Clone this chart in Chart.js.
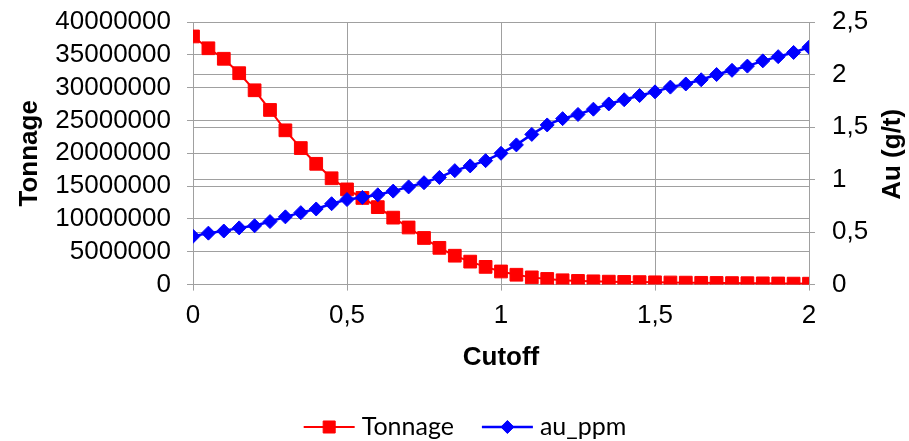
<!DOCTYPE html>
<html>
<head>
<meta charset="utf-8">
<script src="https://cdn.jsdelivr.net/npm/chart.js@4/dist/chart.umd.min.js"></script>
<style>
  html, body { margin: 0; padding: 0; background: #fff; }
  #wrap { width: 909px; height: 441px; }
</style>
</head>
<body>
<div id="wrap"><canvas id="c" width="909" height="441"></canvas></div>
<script>
// Grade-tonnage curve: cutoff grade (g/t) vs tonnage above cutoff and mean Au grade
const cutoff = [0, 0.05, 0.1, 0.15, 0.2, 0.25, 0.3, 0.35, 0.4, 0.45,
                0.5, 0.55, 0.6, 0.65, 0.7, 0.75, 0.8, 0.85, 0.9, 0.95,
                1, 1.05, 1.1, 1.15, 1.2, 1.25, 1.3, 1.35, 1.4, 1.45,
                1.5, 1.55, 1.6, 1.65, 1.7, 1.75, 1.8, 1.85, 1.9, 1.95, 2];

const tonnage = [37800000, 36000000, 34400000, 32200000, 29600000, 26600000, 23500000, 20800000, 18400000, 16200000,
                 14500000, 13200000, 11800000, 10200000, 8700000, 7100000, 5600000, 4400000, 3500000, 2700000,
                 2000000, 1500000, 1100000, 860000, 660000, 560000, 500000, 450000, 410000, 380000,
                 350000, 320000, 300000, 270000, 250000, 230000, 210000, 190000, 170000, 150000, 140000];

const auPpm = [0.46, 0.49, 0.51, 0.54, 0.56, 0.60, 0.645, 0.685, 0.72, 0.77,
               0.81, 0.83, 0.855, 0.89, 0.93, 0.97, 1.02, 1.085, 1.13, 1.18,
               1.25, 1.33, 1.43, 1.52, 1.58, 1.62, 1.67, 1.72, 1.76, 1.80,
               1.835, 1.88, 1.91, 1.95, 2.0, 2.04, 2.08, 2.13, 2.17, 2.21, 2.26];

const seriesNames = ['Tonnage', 'au_ppm'];
const axisTitles = { x: 'Cutoff', left: 'Tonnage', right: 'Au (g/t)' };

const RED = '#ff0000';
const BLUE = '#0000ff';
const GRID = '#a0a0a0';
const TICK_FONT = { family: '"Liberation Sans", Arial, sans-serif', size: 26 };
const TITLE_FONT = { family: '"Liberation Sans", Arial, sans-serif', size: 26, weight: 'bold' };
const comma = v => String(v).replace('.', ',');

const toXY = arr => cutoff.map((c, i) => ({ x: c, y: arr[i] }));

// Vertical axes: fixed widths, and no extra label overhang reserved above/below the plot
const fitVertical = width => s => { s.width = width; s.paddingTop = 0; s.paddingBottom = 0; };

// Right-axis title, read bottom-to-top like the left one
const rightTitle = {
  id: 'rightTitle',
  afterDraw(chart) {
    const s = chart.scales.yR, a = chart.chartArea, ctx = chart.ctx;
    ctx.save();
    ctx.translate(s.right - 16, (a.top + a.bottom) / 2 + 1);
    ctx.rotate(-Math.PI / 2);
    ctx.font = 'bold 26px "Liberation Sans", Arial, sans-serif';
    ctx.fillStyle = '#000';
    ctx.textAlign = 'center';
    ctx.textBaseline = 'middle';
    ctx.fillText(axisTitles.right, 0, 0);
    ctx.restore();
  }
};

// Legend with a line-and-marker sample for each series
const lineLegend = {
  id: 'lineLegend',
  afterDraw(chart) {
    const ctx = chart.ctx;
    const y = 427, sample = 51, gapText = 7, gapItem = 28;
    ctx.save();
    ctx.font = '25px Lato, "Open Sans", sans-serif';
    const items = chart.data.datasets.map(ds => ({ ds, w: ctx.measureText(ds.label).width }));
    const total = items.reduce((t, it) => t + sample + gapText + it.w, 0) + gapItem * (items.length - 1);
    let x = 465 - total / 2;
    items.forEach(({ ds, w }) => {
      ctx.strokeStyle = ds.borderColor;
      ctx.lineWidth = ds.borderWidth;
      ctx.beginPath();
      ctx.moveTo(x, y);
      ctx.lineTo(x + sample, y);
      ctx.stroke();
      ctx.fillStyle = ds.pointBackgroundColor;
      ctx.strokeStyle = ds.pointBorderColor;
      ctx.lineWidth = 1;
      Chart.helpers.drawPoint(ctx, { pointStyle: ds.pointStyle, radius: ds.pointRadius - 0.5, rotation: 0, borderWidth: 1 }, x + sample / 2, y);
      ctx.fillStyle = '#000';
      ctx.textAlign = 'left';
      ctx.textBaseline = 'middle';
      ctx.fillText(ds.label, x + sample + gapText, y);
      x += sample + gapText + w + gapItem;
    });
    ctx.restore();
  }
};

new Chart(document.getElementById('c'), {
  type: 'line',
  data: {
    datasets: [
      {
        label: seriesNames[0],
        data: toXY(tonnage),
        yAxisID: 'yL',
        order: 1,
        borderColor: RED,
        borderWidth: 2,
        pointStyle: 'rect',
        pointRadius: 9,
        pointBackgroundColor: RED,
        pointBorderColor: RED,
        pointBorderWidth: 1,
        tension: 0
      },
      {
        label: seriesNames[1],
        data: toXY(auPpm),
        yAxisID: 'yR',
        order: 0,
        borderColor: BLUE,
        borderWidth: 2.5,
        pointStyle: 'rectRot',
        pointRadius: 7,
        pointBackgroundColor: BLUE,
        pointBorderColor: BLUE,
        pointBorderWidth: 1,
        tension: 0
      }
    ]
  },
  options: {
    responsive: false,
    animation: false,
    layout: { padding: { top: 22, left: 0, right: 0, bottom: 68 } },
    plugins: {
      legend: { display: false },
      tooltip: { enabled: false }
    },
    scales: {
      x: {
        type: 'linear',
        min: 0, max: 2,
        afterFit(s) { s.paddingLeft = 0; s.paddingRight = 0; },
        ticks: { stepSize: 0.5, color: '#000', font: TICK_FONT, padding: 10, callback: comma, maxRotation: 0 },
        grid: { color: GRID, lineWidth: 1, tickLength: 6, tickColor: GRID },
        border: { color: GRID, width: 1 },
        title: { display: true, text: axisTitles.x, color: '#000', font: TITLE_FONT, padding: { top: 0, bottom: 0 } }
      },
      yL: {
        type: 'linear',
        position: 'left',
        min: 0, max: 40000000,
        afterFit: fitVertical(193),
        ticks: { stepSize: 5000000, color: '#000', font: TICK_FONT, padding: 16, autoSkip: false, callback: v => String(v) },
        grid: { color: GRID, lineWidth: 1, tickLength: 6, tickColor: GRID },
        border: { color: GRID, width: 1 },
        title: { display: true, text: axisTitles.left, color: '#000', font: TITLE_FONT, padding: { top: 14, bottom: 0 } }
      },
      yR: {
        type: 'linear',
        position: 'right',
        min: 0, max: 2.5,
        afterFit: fitVertical(100),
        ticks: { stepSize: 0.5, color: '#000', font: TICK_FONT, padding: 17, autoSkip: false, callback: comma },
        grid: { color: GRID, lineWidth: 1, tickLength: 6, tickColor: GRID, drawOnChartArea: true },
        border: { color: GRID, width: 1 }
      }
    }
  },
  plugins: [rightTitle, lineLegend]
});
</script>
</body>
</html>
